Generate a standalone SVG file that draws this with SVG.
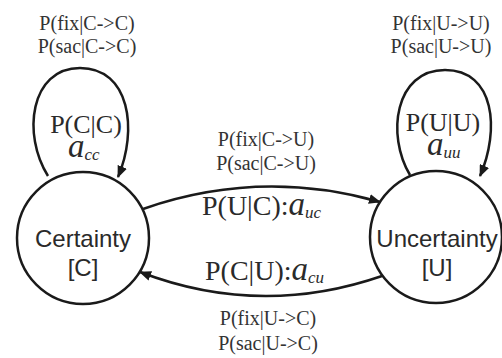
<svg xmlns="http://www.w3.org/2000/svg" width="502" height="358" viewBox="0 0 502 358">
<style>
.bg{fill:#ffffff}
.node{fill:#ffffff;stroke:#1a1a1a;stroke-width:2.5}
.edge{fill:none;stroke:#1a1a1a;stroke-width:2.5}
.sans{font-family:"Liberation Sans",Arial,sans-serif;font-size:24px;fill:#2a2a2a;text-anchor:middle}
.small{font-family:"Liberation Serif","Times New Roman",serif;font-size:20px;fill:#333333;text-anchor:middle}
.big{font-family:"Liberation Serif","Times New Roman",serif;font-size:28px;fill:#2a2a2a}
.loop{font-size:26px}
.ai{font-style:italic;font-size:33px}
.sub{font-style:italic;font-size:17px}
</style>
<defs>
<marker id="arr" viewBox="0 0 12 10" refX="11" refY="5" markerWidth="12" markerHeight="10" markerUnits="userSpaceOnUse" orient="auto">
<path d="M0,0 L12,5 L0,10 Z" fill="#1a1a1a"/>
</marker>
</defs>
<rect class="bg" x="0" y="0" width="502" height="358"/>
<g id="connectors">
<path class="edge" d="M48,176 C22,135 30,68 80,68 C130,68 138,130 118,177" marker-end="url(#arr)"/>
<path class="edge" d="M410,175 C386,135 395,70 445,70 C495,70 500,130 480,176" marker-end="url(#arr)"/>
<path class="edge" d="M143,209 Q260,168 380,202" marker-end="url(#arr)"/>
<path class="edge" d="M382,276 Q260,318 140,272" marker-end="url(#arr)"/>
</g>
<g id="node-certainty">
<circle class="node" cx="83" cy="238" r="66"/>
<text class="sans" x="83" y="247">Certainty</text>
<text class="sans" x="83" y="276">[C]</text>
</g>
<g id="node-uncertainty">
<circle class="node" cx="436" cy="237" r="66"/>
<text class="sans" x="437" y="247">Uncertainty</text>
<text class="sans" x="437" y="276">[U]</text>
</g>
<g id="labels">
<text class="small" x="87" y="30">P(fix|C-&gt;C)</text>
<text class="small" x="87" y="53">P(sac|C-&gt;C)</text>
<text class="small" x="441" y="30">P(fix|U-&gt;U)</text>
<text class="small" x="441" y="53">P(sac|U-&gt;U)</text>
<text class="small" x="266" y="146">P(fix|C-&gt;U)</text>
<text class="small" x="266" y="170">P(sac|C-&gt;U)</text>
<text class="small" x="268" y="325">P(fix|U-&gt;C)</text>
<text class="small" x="268" y="350">P(sac|U-&gt;C)</text>
<text class="big loop" x="86" y="133" text-anchor="middle">P(C|C)</text>
<text class="big" x="68" y="157"><tspan class="ai">a</tspan><tspan class="sub" dy="3">cc</tspan></text>
<text class="big loop" x="443" y="131" text-anchor="middle">P(U|U)</text>
<text class="big" x="427" y="155"><tspan class="ai">a</tspan><tspan class="sub" dy="3">uu</tspan></text>
<text class="big" x="202" y="215">P(U|C):<tspan class="ai">a</tspan><tspan class="sub" dy="3">uc</tspan></text>
<text class="big" x="205" y="280">P(C|U):<tspan class="ai">a</tspan><tspan class="sub" dy="3">cu</tspan></text>
</g>
</svg>
